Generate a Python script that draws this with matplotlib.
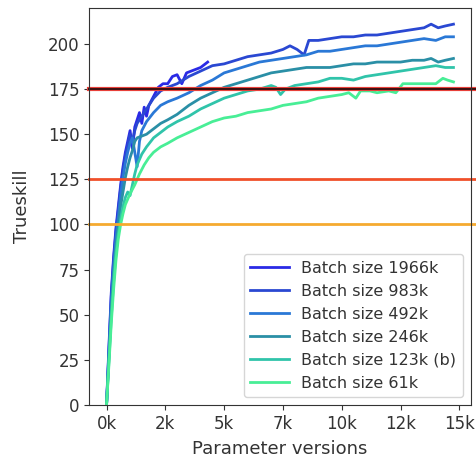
import numpy as np
import matplotlib
matplotlib.use("Agg")
import matplotlib.pyplot as plt
from matplotlib.ticker import FuncFormatter

# Trueskill vs parameter versions
labels = ["Batch size 1966k", "Batch size 983k", "Batch size 492k",
          "Batch size 246k", "Batch size 123k (b)", "Batch size 61k"]

x_1966 = [0, 100, 200, 300, 400, 500, 600, 700, 800, 900, 1000, 1100, 1200, 1300, 1400,
          1500, 1600, 1700, 1800, 2000, 2200, 2400, 2600, 2800, 3000, 3200, 3400, 3600,
          3800, 4000, 4300]
y_1966 = [0, 32, 62, 82, 98, 110, 122, 132, 140, 146, 152, 142, 154, 158, 162,
          156, 165, 160, 166, 171, 176, 178, 178, 182, 183, 178, 184, 185,
          186, 187, 190]

x_983 = [0, 100, 200, 300, 400, 500, 600, 700, 800, 900, 1000, 1100, 1200, 1300, 1400,
         1500, 1700, 2000, 2300, 2600, 3000, 3500, 4000, 4500, 5000, 5500, 6000, 6500,
         7000, 7500, 7800, 8100, 8400, 8600, 9000, 9500, 10000, 10500, 11000, 11500,
         12000, 12500, 13000, 13500, 13800, 14100, 14400, 14750]
y_983 = [0, 30, 60, 80, 96, 108, 120, 130, 138, 144, 150, 146, 152, 156, 158,
         160, 164, 170, 174, 176, 178, 182, 185, 188, 189, 191, 193, 194,
         195, 197, 199, 197, 194, 202, 202, 203, 204, 204, 205, 205,
         206, 207, 208, 209, 211, 209, 210, 211]

x_492 = [0, 100, 200, 300, 400, 500, 600, 700, 800, 900, 1000, 1100, 1200, 1300, 1400,
         1500, 1700, 2000, 2300, 2600, 3000, 3500, 4000, 4500, 5000, 5500, 6000, 6500,
         7000, 7500, 8000, 8500, 9000, 9500, 10000, 10500, 11000, 11500, 12000, 12500,
         13000, 13500, 14000, 14400, 14750]
y_492 = [0, 28, 56, 76, 92, 104, 116, 126, 134, 140, 145, 148, 140, 132, 146,
         152, 157, 162, 166, 168, 170, 173, 177, 180, 184, 186, 188, 190,
         191, 192, 193, 194, 196, 196, 197, 198, 199, 199, 200, 201,
         202, 203, 202, 204, 204]

x_246 = [0, 100, 200, 300, 400, 500, 600, 700, 800, 900, 1000, 1100, 1200, 1300, 1500,
         1700, 2000, 2300, 2600, 3000, 3500, 4000, 4500, 5000, 5500, 6000, 6500, 7000,
         7500, 8000, 8500, 9000, 9500, 10000, 10500, 11000, 11500, 12000, 12500, 13000,
         13500, 13800, 14100, 14400, 14750]
y_246 = [0, 26, 52, 72, 88, 100, 110, 118, 126, 132, 137, 141, 146, 148, 149,
         150, 153, 156, 158, 161, 166, 170, 173, 176, 178, 180, 182, 184,
         185, 186, 187, 187, 187, 188, 189, 189, 190, 190, 190, 191,
         191, 192, 190, 191, 192]

x_123 = [0, 100, 200, 300, 400, 500, 600, 700, 800, 900, 1000, 1100, 1200, 1300, 1500,
         1700, 2000, 2300, 2600, 3000, 3500, 4000, 4500, 5000, 5500, 6000, 6500, 7000,
         7200, 7400, 7600, 8000, 8500, 9000, 9500, 10000, 10500, 11000, 11500, 12000,
         12500, 13000, 13500, 14000, 14400, 14750]
y_123 = [0, 24, 48, 68, 84, 95, 103, 110, 115, 118, 116, 122, 128, 133, 139,
         143, 148, 151, 154, 157, 160, 164, 167, 170, 172, 174, 175, 177,
         176, 172, 175, 177, 178, 179, 181, 181, 180, 182, 183, 184,
         185, 186, 187, 188, 187, 187]

x_61 = [0, 100, 200, 300, 400, 500, 600, 700, 800, 900, 1000, 1200, 1400, 1600, 1800,
        2000, 2300, 2600, 3000, 3500, 4000, 4500, 5000, 5500, 6000, 6500, 7000, 7500,
        8000, 8500, 9000, 9500, 10000, 10300, 10600, 10800, 11200, 11500, 12000, 12300,
        12600, 13000, 13500, 14000, 14300, 14500, 14750]
y_61 = [0, 22, 45, 64, 80, 92, 100, 106, 111, 114, 117, 122, 128, 133, 137,
        140, 143, 145, 148, 151, 154, 157, 159, 160, 162, 163, 164, 166,
        167, 168, 170, 171, 172, 173, 170, 174, 174, 173, 174, 173,
        178, 178, 178, 178, 181, 180, 179]

xs = [x_1966, x_983, x_492, x_246, x_123, x_61]
ys = [y_1966, y_983, y_492, y_246, y_123, y_61]

xticks = [0, 2500, 5000, 7500, 10000, 12500, 15000]
colors = ["#2a2ae6", "#2a48d2", "#2a78d6", "#2a8fa6", "#30c4aa", "#48ee96"]

plt.rcParams["text.color"] = "#333333"
plt.rcParams["axes.labelcolor"] = "#333333"
plt.rcParams["xtick.color"] = "#333333"
plt.rcParams["ytick.color"] = "#333333"

fig = plt.figure(figsize=(4.77, 4.67), dpi=100)
ax = fig.add_axes([0.187, 0.133, 0.8, 0.85])

for i, (x, y) in enumerate(zip(xs, ys)):
    ax.plot(x, y, color=colors[i], lw=2, label=labels[i])

# reference lines (they run a little past the right spine in the original)
ax.axhline(175, xmax=1.03, color="#e8403a", lw=3, clip_on=False)
ax.axhline(175, xmax=1.03, color="#3a1010", lw=1.4, clip_on=False)
ax.axhline(125, xmax=1.03, color="#f0502a", lw=2, clip_on=False)
ax.axhline(100, xmax=1.03, color="#f5aa30", lw=2, clip_on=False)

for s in ax.spines.values():
    s.set_color("#333333")

ax.set_ylim(0, 220)
ax.set_xticks(xticks)
ax.xaxis.set_major_formatter(FuncFormatter(lambda v, p: "%dk" % int(v / 1000)))
ax.tick_params(labelsize=12)
ax.set_xlabel("Parameter versions", fontsize=13, labelpad=5)
ax.set_ylabel("Trueskill", fontsize=13, labelpad=12)

ax.legend(loc="lower right", fontsize=11.5, handlelength=2.4)

fig.savefig("out.png", dpi=100)
